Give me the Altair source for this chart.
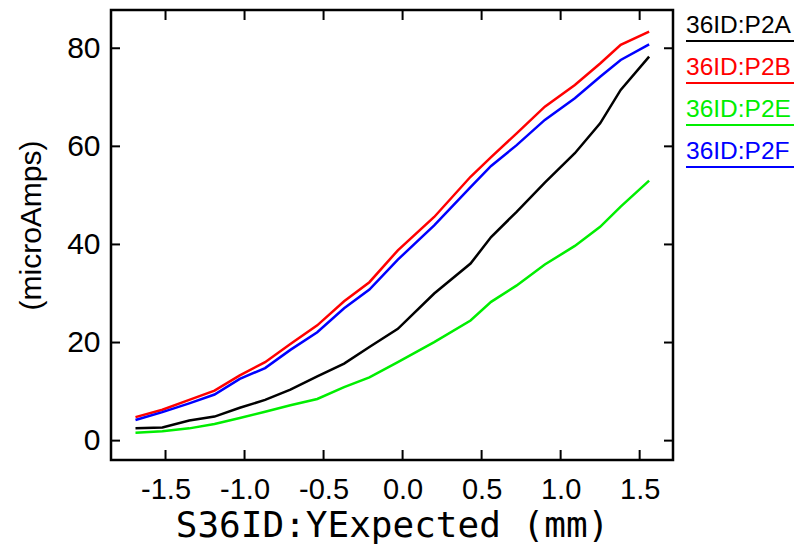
import altair as alt
import pandas as pd

# ---- data ----
x_mm = [-1.69, -1.52, -1.35, -1.19, -1.03, -0.87, -0.71, -0.54, -0.37, -0.21,
        -0.03, 0.20, 0.43, 0.56, 0.72, 0.90, 1.09, 1.25, 1.38, 1.56]
p2a = [2.5, 2.7, 4.1, 4.9, 6.7, 8.3, 10.4, 13.1, 15.7, 19.1,
       22.8, 30.0, 36.1, 41.5, 46.6, 52.6, 58.6, 64.7, 71.5, 78.3]
p2b = [4.8, 6.3, 8.3, 10.2, 13.3, 16.0, 19.7, 23.5, 28.4, 32.3,
       38.8, 45.6, 53.8, 57.8, 62.6, 68.1, 72.5, 76.9, 80.7, 83.4]
p2e = [1.6, 1.9, 2.5, 3.4, 4.6, 5.9, 7.2, 8.5, 10.9, 12.9,
       16.0, 20.1, 24.5, 28.3, 31.6, 35.9, 39.7, 43.6, 47.7, 53.0]
p2f = [4.2, 5.8, 7.6, 9.4, 12.6, 14.8, 18.5, 22.1, 27.0, 30.8,
       36.9, 43.9, 51.7, 56.0, 60.2, 65.4, 69.8, 74.2, 77.6, 80.8]

series_names = ["36ID:P2A", "36ID:P2B", "36ID:P2E", "36ID:P2F"]
series_colors = ["#000000", "#ff0000", "#00ee00", "#0000ff"]
series_values = [p2a, p2b, p2e, p2f]

x_ticks = [-1.5, -1.0, -0.5, 0.0, 0.5, 1.0, 1.5]
y_ticks = [0, 20, 40, 60, 80]

x_title = "S36ID:YExpected (mm)"
y_title = "(microAmps)"

# ---- build table ----
rows = []
for name, vals in zip(series_names, series_values):
    for xv, yv in zip(x_mm, vals):
        rows.append({"x": xv, "y": yv, "series": name})
df = pd.DataFrame(rows)

W, H = 562, 450
xs = alt.Scale(domain=[-1.845, 1.711], nice=False, zero=False)
ys = alt.Scale(domain=[-3.95, 87.8], nice=False, zero=False)

x_axis = alt.Axis(values=x_ticks, format=".1f", title=x_title, grid=False,
                  domain=False, ticks=False, labelFont="Liberation Sans",
                  labelFontSize=29, labelColor="black", labelPadding=15,
                  titleFont="DejaVu Sans Mono", titleFontSize=36,
                  titleFontWeight="normal", titleColor="black", titlePadding=4,
                  labelExpr="replace(datum.label, '\u2212', '-')")
y_axis = alt.Axis(values=y_ticks, format="d", title=y_title, grid=False,
                  domain=False, ticks=False, labelFont="Liberation Sans",
                  labelFontSize=30, labelColor="black", labelPadding=11,
                  titleFont="Liberation Sans", titleFontSize=30,
                  titleFontWeight="normal", titleColor="black", titlePadding=20,
                  titleY=215)

X = alt.X("x:Q", scale=xs, axis=x_axis)
Y = alt.Y("y:Q", scale=ys, axis=y_axis)

lines = alt.Chart(df).mark_line(strokeWidth=2.5, clip=True).encode(
    x=X, y=Y,
    color=alt.Color("series:N", scale=alt.Scale(domain=series_names, range=series_colors), legend=None),
    detail="series:N",
)

xt = pd.DataFrame({"x": x_ticks})
yt = pd.DataFrame({"y": y_ticks})
TL = 10
tick_style = dict(color="black", strokeWidth=2)
bot = alt.Chart(xt).mark_rule(**tick_style).encode(x=X, y=alt.value(H), y2=alt.value(H - TL))
top = alt.Chart(xt).mark_rule(**tick_style).encode(x=X, y=alt.value(0), y2=alt.value(TL))
lef = alt.Chart(yt).mark_rule(**tick_style).encode(y=Y, x=alt.value(0), x2=alt.value(TL - 1))
rig = alt.Chart(yt).mark_rule(**tick_style).encode(y=Y, x=alt.value(W), x2=alt.value(W - TL + 1))

frame = alt.Chart(alt.Data(values=[{"f": 1}])).mark_rect(
    fill=None, stroke="black", strokeWidth=2.5).encode(
    x=alt.value(0), x2=alt.value(W), y=alt.value(0), y2=alt.value(H))

layers = [lines, bot, top, lef, rig, frame]

# custom legend (text with underline), right of plot
lx0, lx1 = 575, 683
for i, (name, col) in enumerate(zip(series_names, series_colors)):
    d = alt.Data(values=[{"s": name}])
    base_y = 23 + i * 42
    t = alt.Chart(d).mark_text(align="left", baseline="alphabetic", font="Liberation Sans",
                                 fontSize=24.5, color=col).encode(
        text="s:N", x=alt.value(lx0), y=alt.value(base_y))
    u = alt.Chart(d).mark_rule(color=col, strokeWidth=2).encode(
        x=alt.value(lx0), x2=alt.value(lx1), y=alt.value(base_y + 8))
    layers += [t, u]

chart = alt.layer(*layers).properties(
    width=W, height=H,
    autosize=alt.AutoSizeParams(type="none"),
    padding={"left": 103, "top": 2, "right": 123, "bottom": 84},
).configure_view(stroke=None).configure(background="white")

chart.save("out.html", embed_options={"renderer": "svg", "actions": False})
